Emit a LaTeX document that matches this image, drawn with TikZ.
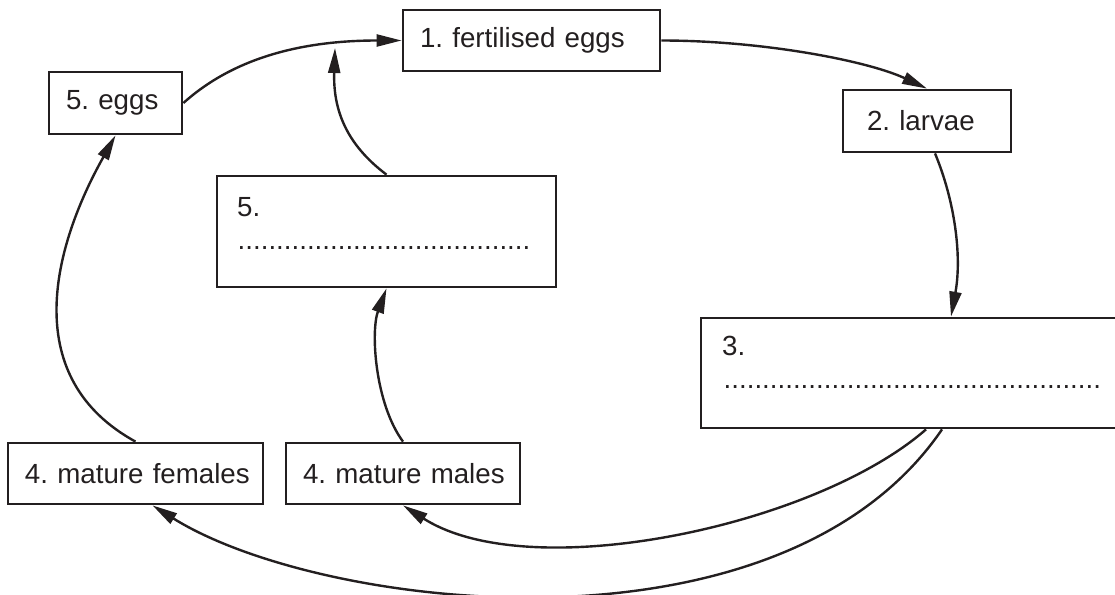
\documentclass[tikz,border=0pt]{standalone}
\usepackage{fontspec}
\setmainfont{Liberation Sans}
\frenchspacing
\usetikzlibrary{arrows.meta}
\usetikzlibrary{calc}
\definecolor{ink}{HTML}{231F20}

\begin{document}
\begin{tikzpicture}[x=1pt,y=-1pt,
  box/.style={draw=ink,line width=2.8pt,inner xsep=0pt,inner ysep=0pt,minimum height=61pt,align=left,text=ink,font=\fontsize{27.7}{33}\selectfont,execute at begin node=\hspace*{17pt}},
  blank/.style={inner sep=0pt,anchor=base west,text=ink,font=\fontsize{27.7}{33}\selectfont},
  link/.style={draw=ink,line width=2.4pt,-{Triangle[length=25pt,width=12pt]}}]
\useasboundingbox (0,0) rectangle (1115,594);
\node[box,text width=257pt] (fert) at (531.5,40.5) {1. fertilised eggs};
\node[box,text width=133pt,minimum height=62pt] (eggs) at (115.5,103) {5. eggs};
\node[box,text width=168pt,minimum height=62pt,execute at begin node=\hspace*{7pt}] (larvae) at (927,121) {2. larvae};
\node[box,minimum width=339pt,minimum height=111pt] (q5) at (386.5,231.5) {};
\node[box,minimum width=424pt,minimum height=110pt] (q3) at (913,373) {};
\node[box,text width=255pt] (fem) at (135.5,473.5) {4. mature females};
\node[box,text width=234pt] (mal) at (403,473.5) {4. mature males};

\node[blank] (q5num) at (237,216) {5.};
\node[blank] (q5dots) at (237.5,249.5) {......................................};
\node[blank] (q3num) at (722,355) {3.};
\node[blank] (q3dots) at (723.5,388.5) {.................................................};

\coordinate (join) at (335,48);
\draw[link] (eggs.east) .. controls +(50,-45) and +(-100,0) .. (fert.west);
\draw[link] (q5.north) .. controls +(-40,-30) and +(-2,62) .. (join);
\draw[link] (fert.east) .. controls +(100,0) and +(-60,-28) .. (larvae.north);
\draw[link] ($(larvae.south)+(8,0)$) .. controls +(20,48) and +(11,-60) .. ($(q3.north)+(38,0)$);
\draw[link] ($(q3.south)+(13,0)$) .. controls +(-111,97) and +(127,81) .. (mal.south);
\draw[link] ($(q3.south)+(29,0)$) .. controls +(-162,237) and +(168,105) .. ($(fem.south)+(17,0)$);
\draw[link] (mal.north) .. controls +(-28,-38) and +(-16,43) .. (q5.south);
\draw[link] (fem.north) .. controls +(-115,-63) and +(-65,116) .. (eggs.south);

\end{tikzpicture}
\end{document}
